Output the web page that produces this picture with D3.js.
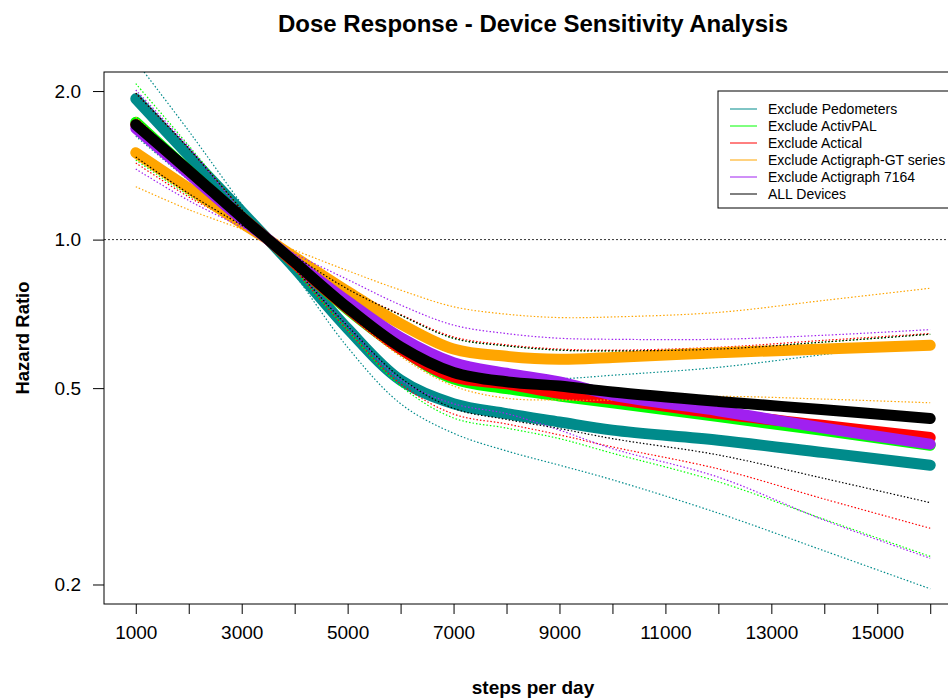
<!DOCTYPE html>
<html>
<head>
<meta charset="utf-8">
<script src="https://cdn.jsdelivr.net/npm/d3@7/dist/d3.min.js"></script>
<style>
    body { margin: 0; background: #fff; }
    text { font-family: "Liberation Sans", Arial, sans-serif; }
</style>
</head>
<body>
<div id="chart"></div>
<script>
// steps per day where the curves were read
const steps = [1000, 2000, 3000, 3500, 4000, 5000, 6000, 7000, 8000, 9000, 10000, 12000, 14000, 16000];

const deviceNames = ['Exclude Pedometers', 'Exclude ActivPAL', 'Exclude Actical', 'Exclude Actigraph-GT series', 'Exclude Actigraph 7164', 'ALL Devices'];
const deviceColors = ['#008B8B', '#00FF00', '#FF0000', '#FFA500', '#A020F0', '#000000'];

// hazard ratios (main curve, lower CI, upper CI)
const pedometersHR = [1.93, 1.48, 1.14, 1.0, 0.875, 0.66, 0.519, 0.465, 0.444, 0.427, 0.411, 0.392, 0.370, 0.349];
const pedometersLo = [1.62, 1.32, 1.10, 1.0, 0.85, 0.605, 0.465, 0.405, 0.373, 0.349, 0.326, 0.279, 0.234, 0.196];
const pedometersHi = [2.30, 1.66, 1.18, 1.0, 0.90, 0.715, 0.597, 0.53, 0.531, 0.523, 0.531, 0.551, 0.585, 0.62];

const activpalHR = [1.73, 1.38, 1.11, 1.0, 0.895, 0.722, 0.60, 0.522, 0.499, 0.482, 0.467, 0.438, 0.41, 0.383];
const activpalLo = [1.45, 1.23, 1.07, 1.0, 0.868, 0.655, 0.505, 0.435, 0.415, 0.395, 0.369, 0.323, 0.271, 0.228];
const activpalHi = [2.07, 1.55, 1.15, 1.0, 0.922, 0.794, 0.703, 0.631, 0.609, 0.597, 0.595, 0.60, 0.62, 0.643];

const acticalHR = [1.71, 1.37, 1.11, 1.0, 0.895, 0.725, 0.60, 0.527, 0.51, 0.488, 0.475, 0.444, 0.42, 0.397];
const acticalLo = [1.43, 1.22, 1.07, 1.0, 0.869, 0.655, 0.51, 0.443, 0.423, 0.402, 0.38, 0.343, 0.298, 0.26];
const acticalHi = [1.98, 1.53, 1.15, 1.0, 0.922, 0.794, 0.705, 0.635, 0.612, 0.60, 0.597, 0.605, 0.625, 0.645];

const gtSeriesHR = [1.50, 1.27, 1.08, 1.0, 0.922, 0.785, 0.675, 0.60, 0.58, 0.572, 0.577, 0.59, 0.60, 0.611];
const gtSeriesLo = [1.28, 1.15, 1.05, 1.0, 0.892, 0.71, 0.58, 0.505, 0.477, 0.473, 0.473, 0.481, 0.475, 0.467];
const gtSeriesHi = [1.77, 1.41, 1.12, 1.0, 0.952, 0.865, 0.79, 0.731, 0.706, 0.695, 0.697, 0.712, 0.753, 0.797];

const ag7164HR = [1.68, 1.36, 1.10, 1.0, 0.905, 0.75, 0.633, 0.563, 0.536, 0.515, 0.484, 0.450, 0.415, 0.385];
const ag7164Lo = [1.39, 1.20, 1.06, 1.0, 0.875, 0.67, 0.52, 0.465, 0.444, 0.411, 0.377, 0.33, 0.27, 0.226];
const ag7164Hi = [2.01, 1.54, 1.14, 1.0, 0.936, 0.83, 0.737, 0.671, 0.645, 0.631, 0.628, 0.628, 0.64, 0.657];

const allHR = [1.71, 1.38, 1.11, 1.0, 0.90, 0.728, 0.606, 0.538, 0.515, 0.505, 0.491, 0.47, 0.452, 0.434];
const allLo = [1.47, 1.24, 1.07, 1.0, 0.874, 0.668, 0.525, 0.455, 0.432, 0.414, 0.395, 0.366, 0.328, 0.293];
const allHi = [1.98, 1.53, 1.15, 1.0, 0.926, 0.794, 0.703, 0.631, 0.609, 0.597, 0.595, 0.60, 0.62, 0.643];

const yTicks = [0.2, 0.5, 1.0, 2.0];
const xTicks = d3.range(1000, 16001, 1000);

const series = [
    { hr: pedometersHR, lo: pedometersLo, hi: pedometersHi },
    { hr: activpalHR, lo: activpalLo, hi: activpalHi },
    { hr: acticalHR, lo: acticalLo, hi: acticalHi },
    { hr: gtSeriesHR, lo: gtSeriesLo, hi: gtSeriesHi },
    { hr: ag7164HR, lo: ag7164Lo, hi: ag7164Hi },
    { hr: allHR, lo: allLo, hi: allHi }
];

const width = 948, height = 700;
const plot = { left: 104, top: 72, right: 962, bottom: 604 };

const svg = d3.select('#chart')
    .append('svg')
    .attr('width', width)
    .attr('height', height);

// R pads the x range by 4% on each side
const x = d3.scaleLinear().domain([400, 16600]).range([plot.left, plot.right]);
const y = d3.scaleLog().domain([0.1826, 2.186]).range([plot.bottom, plot.top]);

svg.append('clipPath')
    .attr('id', 'plotclip')
    .append('rect')
    .attr('x', plot.left)
    .attr('y', plot.top)
    .attr('width', plot.right - plot.left)
    .attr('height', plot.bottom - plot.top);

const area = svg.append('g').attr('clip-path', 'url(#plotclip)');

//reference line HR = 1
area.append('line')
    .attr('x1', plot.left).attr('x2', plot.right)
    .attr('y1', y(1)).attr('y2', y(1))
    .attr('stroke', '#333')
    .attr('stroke-width', 1)
    .attr('stroke-dasharray', '2,2');

const line = d3.line()
    .x((d, i) => x(steps[i]))
    .y(d => y(d))
    .curve(d3.curveCatmullRom.alpha(0.5));

series.forEach((s, i) => {
    area.append('path')
        .attr('d', line(s.hr))
        .attr('fill', 'none')
        .attr('stroke', deviceColors[i])
        .attr('stroke-width', 11)
        .attr('stroke-linecap', 'round')
        .attr('stroke-linejoin', 'round');

    [s.lo, s.hi].forEach(ci => {
        area.append('path')
            .attr('d', line(ci))
            .attr('fill', 'none')
            .attr('stroke', deviceColors[i])
            .attr('stroke-width', 1.2)
            .attr('stroke-dasharray', '1.5,2');
    });
});

//axes
const yAxis = svg.append('g')
    .attr('transform', `translate(${plot.left},0)`)
    .call(d3.axisLeft(y).tickValues(yTicks).tickFormat(d3.format('.1f')).tickSize(11).tickPadding(12));

const xAxis = svg.append('g')
    .attr('transform', `translate(0,${plot.bottom})`)
    .call(d3.axisBottom(x).tickValues(xTicks)
        .tickFormat(d => ((d / 1000) % 2 === 1 ? d : ''))
        .tickSize(10).tickPadding(12));

[xAxis, yAxis].forEach(a => {
    a.select('.domain').remove();
    a.selectAll('line').attr('stroke', '#000');
    a.selectAll('text')
        .attr('fill', '#000')
        .style('font-size', '19px')
        .style('font-family', '"Liberation Sans", Arial, sans-serif');
});

//plot box
svg.append('rect')
    .attr('x', plot.left)
    .attr('y', plot.top)
    .attr('width', plot.right - plot.left)
    .attr('height', plot.bottom - plot.top)
    .attr('fill', 'none')
    .attr('stroke', '#000')
    .attr('stroke-width', 1);

//TITLE
svg.append('text')
    .attr('x', 533)
    .attr('y', 32)
    .attr('text-anchor', 'middle')
    .style('font-size', '24px')
    .style('font-weight', 'bold')
    .text('Dose Response - Device Sensitivity Analysis');

svg.append('text')
    .attr('x', 533)
    .attr('y', 694)
    .attr('text-anchor', 'middle')
    .style('font-size', '19px')
    .style('font-weight', 'bold')
    .text('steps per day');

svg.append('text')
    .attr('transform', 'translate(29,338) rotate(-90)')
    .attr('text-anchor', 'middle')
    .style('font-size', '18.5px')
    .style('font-weight', 'bold')
    .text('Hazard Ratio');

//LEGEND
const legend = svg.append('g');
legend.append('rect')
    .attr('x', 718)
    .attr('y', 91)
    .attr('width', 244)
    .attr('height', 117)
    .attr('fill', '#fff')
    .attr('stroke', '#000');

deviceNames.forEach((name, i) => {
    const ly = 109 + i * 17;
    legend.append('line')
        .attr('x1', 730).attr('x2', 757)
        .attr('y1', ly).attr('y2', ly)
        .attr('stroke', deviceColors[i])
        .attr('stroke-width', 1);
    legend.append('text')
        .attr('x', 768)
        .attr('y', ly + 5)
        .style('font-size', '14px')
        .text(name);
});
</script>
</body>
</html>
